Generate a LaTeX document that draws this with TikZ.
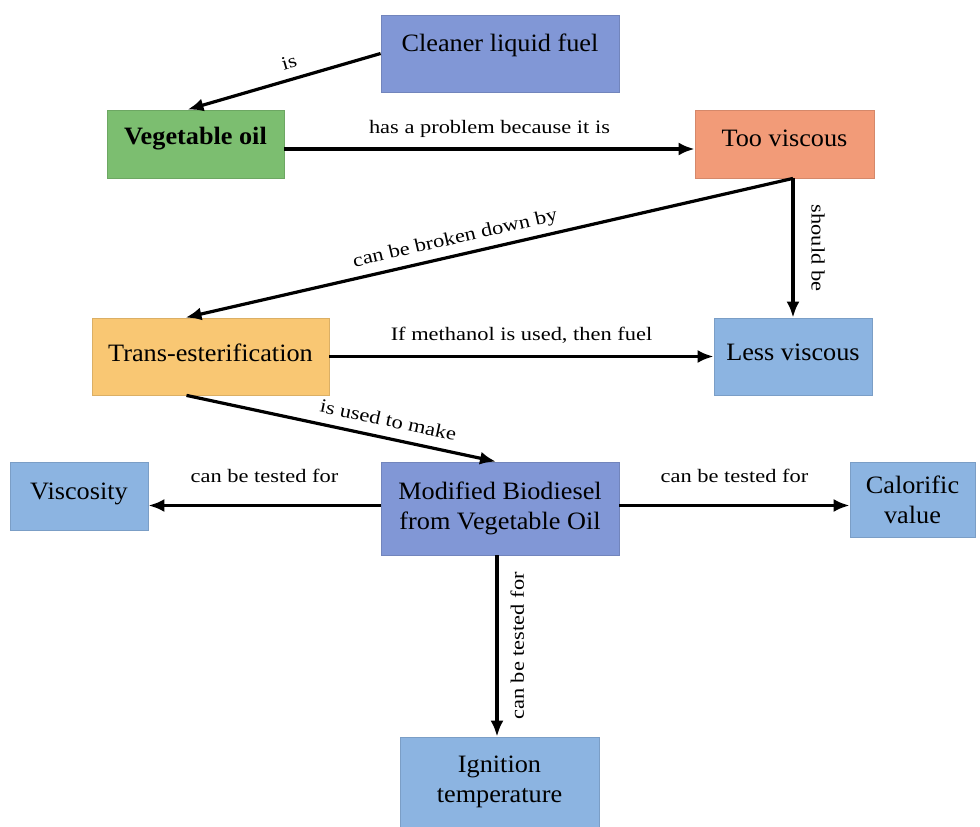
\documentclass[tikz,border=0pt]{standalone}
\usepackage{fontspec}
\setmainfont{Liberation Serif}
\newfontfamily\boxfont{Liberation Serif}[FakeStretch=1.05]
\newfontfamily\lblfont{Liberation Serif}[FakeStretch=1.18]
\usetikzlibrary{arrows.meta}

\definecolor{lavblue}{HTML}{8197D6}
\definecolor{skyblue}{HTML}{8CB4E1}
\definecolor{leafgreen}{HTML}{7CBE70}
\definecolor{salmon}{HTML}{F29B78}
\definecolor{amber}{HTML}{F9C773}

\tikzset{
    box/.style={rectangle, draw=#1!88!black, fill=#1, line width=0.8pt,
        font=\boxfont\fontsize{25}{30}\selectfont, align=center, inner sep=0pt},
    conn/.style={line width=3.2pt, -{Latex[length=16pt,width=13pt]}},
    lbl/.style={font=\lblfont\fontsize{19}{22}\selectfont, inner sep=9pt, text depth=5pt},
}

\begin{document}
                \begin{tikzpicture}[x=1pt,y=-1pt]
                    \useasboundingbox[fill=white] (0,0) rectangle (980,827);

                    % boxes
                    \node[box=lavblue, minimum width=238pt, minimum height=77pt, text depth=21pt] (cleaner) at (500,53.5) {Cleaner liquid fuel};
                    \node[box=leafgreen, minimum width=177pt, minimum height=68pt, text depth=17pt, font=\boxfont\fontsize{25}{30}\selectfont\bfseries] (vegoil) at (195.5,144) {Vegetable oil};
                    \node[box=salmon, minimum width=179pt, minimum height=68pt, text depth=12pt] (tooviscous) at (784.5,144) {Too viscous};
                    \node[box=amber, minimum width=237pt, minimum height=77pt, text depth=8pt] (transest) at (210.5,356.5) {Trans-esterification};
                    \node[box=skyblue, minimum width=158pt, minimum height=77pt, text depth=8pt] (lessviscous) at (793,356.5) {Less viscous};
                    \node[box=lavblue, minimum width=238pt, minimum height=93pt] (biodiesel) at (500,508.5) {Modified Biodiesel\\from Vegetable Oil};
                    \node[box=skyblue, minimum width=138pt, minimum height=68pt, text depth=9pt] (viscosity) at (79,496) {Viscosity};
                    \node[box=skyblue, minimum width=125pt, minimum height=75pt] (calorific) at (912.5,499.5) {Calorific\\value};
                    \node[box=skyblue, minimum width=199pt, minimum height=98pt, text depth=13pt] (ignition) at (499.5,786) {Ignition\\temperature};

                    % connectors
                    \draw[conn] (cleaner.west) -- node[lbl, sloped, above, pos=0.45, inner sep=4pt] {is} ([xshift=-8pt]vegoil.north);
                    \draw[conn] ([yshift=-5pt]vegoil.east) -- node[lbl, above] {has a problem because it is} ([yshift=-5pt]tooviscous.west);
                    \draw[conn] (tooviscous.south -| lessviscous) -- node[lbl, sloped, above, pos=0.55, inner sep=5pt] {can be broken down by} ([xshift=-25pt]transest.north);
                    \draw[conn] (tooviscous.south -| lessviscous) -- node[lbl, rotate=-90, anchor=south, inner sep=12pt] {should be} (lessviscous.north);
                    \draw[conn] (transest.east) -- node[lbl, above] {If methanol is used, then fuel} (lessviscous.west);
                    \draw[conn] ([xshift=-24pt]transest.south) -- node[lbl, sloped, above, pos=0.64, inner sep=5pt] {is used to make} ([xshift=-4pt]biodiesel.north);
                    \draw[conn] ([yshift=3pt]biodiesel.west) -- node[lbl, above, yshift=7pt] {can be tested for} ([yshift=3pt]biodiesel.west -| viscosity.east);
                    \draw[conn] ([yshift=3pt]biodiesel.east) -- node[lbl, above, yshift=7pt] {can be tested for} ([yshift=3pt]biodiesel.east -| calorific.west);
                    \draw[conn] ([xshift=-3pt]biodiesel.south) -- node[lbl, rotate=90, anchor=north, inner sep=12pt] {can be tested for} ([xshift=-3pt]biodiesel.south |- ignition.north);
                \end{tikzpicture}
\end{document}
